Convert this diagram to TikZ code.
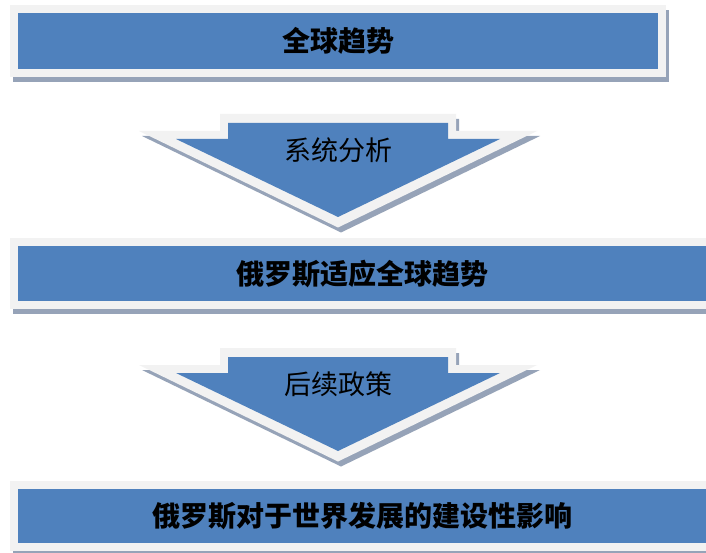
\documentclass[tikz,border=0pt]{standalone}
\usepackage{fontspec}
\newfontfamily\heiti{Noto Sans CJK SC}
\definecolor{barblue}{RGB}{79,129,189}
\definecolor{borderc}{RGB}{242,242,242}
\definecolor{shadowc}{RGB}{150,163,184}
\tikzset{
  bartext/.style={font=\heiti\bfseries\fontsize{28}{28}\selectfont, text=black, inner sep=0pt},
  arrowtext/.style={font=\heiti\fontsize{27}{27}\selectfont, text=black, inner sep=0pt},
  shadowfill/.style={fill=shadowc},
  borderfill/.style={fill=borderc},
  bluefill/.style={fill=barblue},
  pics/downarrow/.style={code={
    \fill[shadowfill] (223,119) -- (459,119) -- (459,136) -- (540,136) -- (341,232.5) -- (142,136) -- (223,136) -- cycle;
    \fill[borderfill] (220,114) -- (456,114) -- (456,131) -- (537,131) -- (338,227.5) -- (139,131) -- (220,131) -- cycle;
    \fill[bluefill] (228,123) -- (448,123) -- (448,139) -- (500,139) -- (338,217) -- (176,139) -- (228,139) -- cycle;
  }}
}
\begin{document}
\begin{tikzpicture}[x=1pt,y=-1pt]
\useasboundingbox (0,0) rectangle (706,553);
\fill[white] (0,0) rectangle (706,553);
% bar 1
\fill[shadowfill] (13,10) rectangle (669,82);
\fill[borderfill] (10,5) rectangle (666,77);
\fill[bluefill] (18,13) rectangle (658,69);
\node[bartext] (b1) at (338,41) {全球趋势};
% arrow 1
\pic at (0,0) {downarrow};
\node[arrowtext] (a1) at (338,150) {系统分析};
% bar 2
\fill[shadowfill] (13,243) rectangle (720,314);
\fill[borderfill] (10,238) rectangle (716,309);
\fill[bluefill] (18,246) rectangle (710,301);
\node[bartext] (b2) at (362,274) {俄罗斯适应全球趋势};
% arrow 2
\pic at (0,234) {downarrow};
\node[arrowtext] (a2) at (338,384) {后续政策};
% bar 3
\fill[shadowfill] (13,486) rectangle (720,556);
\fill[borderfill] (10,481) rectangle (716,551);
\fill[bluefill] (18,489) rectangle (710,543);
\node[bartext] (b3) at (362,516) {俄罗斯对于世界发展的建设性影响};
\end{tikzpicture}
\end{document}
